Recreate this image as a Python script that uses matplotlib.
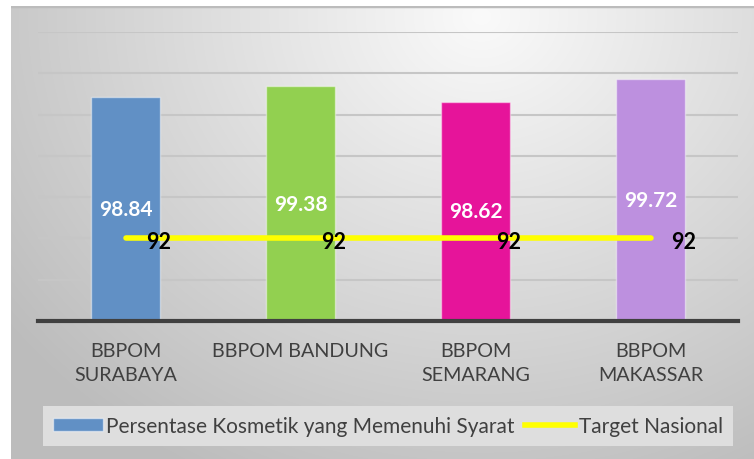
import numpy as np
import matplotlib
matplotlib.use("Agg")
import matplotlib.pyplot as plt
from matplotlib.patches import Patch
from matplotlib.lines import Line2D

categories = ["BBPOM\nSURABAYA", "BBPOM BANDUNG", "BBPOM\nSEMARANG", "BBPOM\nMAKASSAR"]
persentase = [98.84, 99.38, 98.62, 99.72]
target = [92, 92, 92, 92]
bar_colors = ["#6190c5", "#92d050", "#e6149a", "#bd90df"]
series_names = ["Persentase Kosmetik yang Memenuhi Syarat", "Target Nasional"]

plt.rcParams['font.family'] = ['Lato', 'DejaVu Sans']

W, H = 754, 460
fig = plt.figure(figsize=(W / 100, H / 100), dpi=100)
fig.patch.set_facecolor("white")

# gradient background panel
bg = fig.add_axes([11 / W, 0, (W - 11) / W, (H - 7) / H], zorder=-10)
yy, xx = np.mgrid[0:453, 0:743]
d = np.sqrt(((xx - 470) / 1.15) ** 2 + (yy - 10) ** 2)
val = np.clip(250 - d / 520 * 62, 188, 250) / 255.0
img = np.dstack([val, val, val])
bg.imshow(img, aspect="auto", extent=[0, 1, 0, 1], origin="upper")
bg.axhline(1, color="#bcbcbc", lw=2.5)
bg.set_axis_off()

ax = fig.add_axes([38 / W, (H - 322) / H, 700 / W, 289 / H])
ax.set_facecolor("none")
x = np.arange(len(categories))
bars = ax.bar(x, [p - 88 for p in persentase], bottom=88, width=0.394,
              color=bar_colors, edgecolor=(1, 1, 1, 0.45), linewidth=1, zorder=3)
for xi, p in zip(x, persentase):
    ax.text(xi, (88 + p) / 2, f"{p:.2f}", ha="center", va="center",
            color="white", fontsize=15, fontweight="bold", zorder=5)

ax.plot(x, target, color="#ffff00", lw=4, solid_capstyle="round", zorder=4)
for xi, t in zip(x, target):
    ax.annotate(f"{t}", (xi, t), xytext=(21, -3), textcoords="offset pixels",
                ha="left", va="center", fontsize=15.5, fontweight="bold",
                color="black", zorder=6)

ax.set_xlim(-0.5, 3.5)
ax.set_ylim(88, 102)
ax.set_yticks(np.arange(88, 103, 2))
ax.yaxis.grid(True, color="#c6c6c6", lw=1.5, zorder=0)
ax.tick_params(axis="y", left=False, labelleft=False)
ax.set_xticks(x)
ax.set_xticklabels(categories, fontsize=14.2, color="#404040", linespacing=1.5)
ax.tick_params(axis="x", length=0, pad=15)
for s in ["top", "right", "left"]:
    ax.spines[s].set_visible(False)
ax.spines["bottom"].set_color("#404040")
ax.spines["bottom"].set_linewidth(3)
ax.spines["bottom"].set_zorder(6)

handles = [Patch(facecolor=bar_colors[0], edgecolor=(1, 1, 1, 0.5)),
           Line2D([0], [0], color="#ffff00", lw=4)]
leg = fig.legend(handles, series_names, loc="center",
                 bbox_to_anchor=(388 / W, 1 - 427 / H), ncol=2, fontsize=15,
                 frameon=True, fancybox=False, facecolor="#dedede",
                 edgecolor="none", framealpha=1, handlelength=2.4,
                 handleheight=0.6, handletextpad=0.15, columnspacing=0.5,
                 borderpad=0.5, labelcolor="#404040")

fig.savefig("out.png", dpi=100)
